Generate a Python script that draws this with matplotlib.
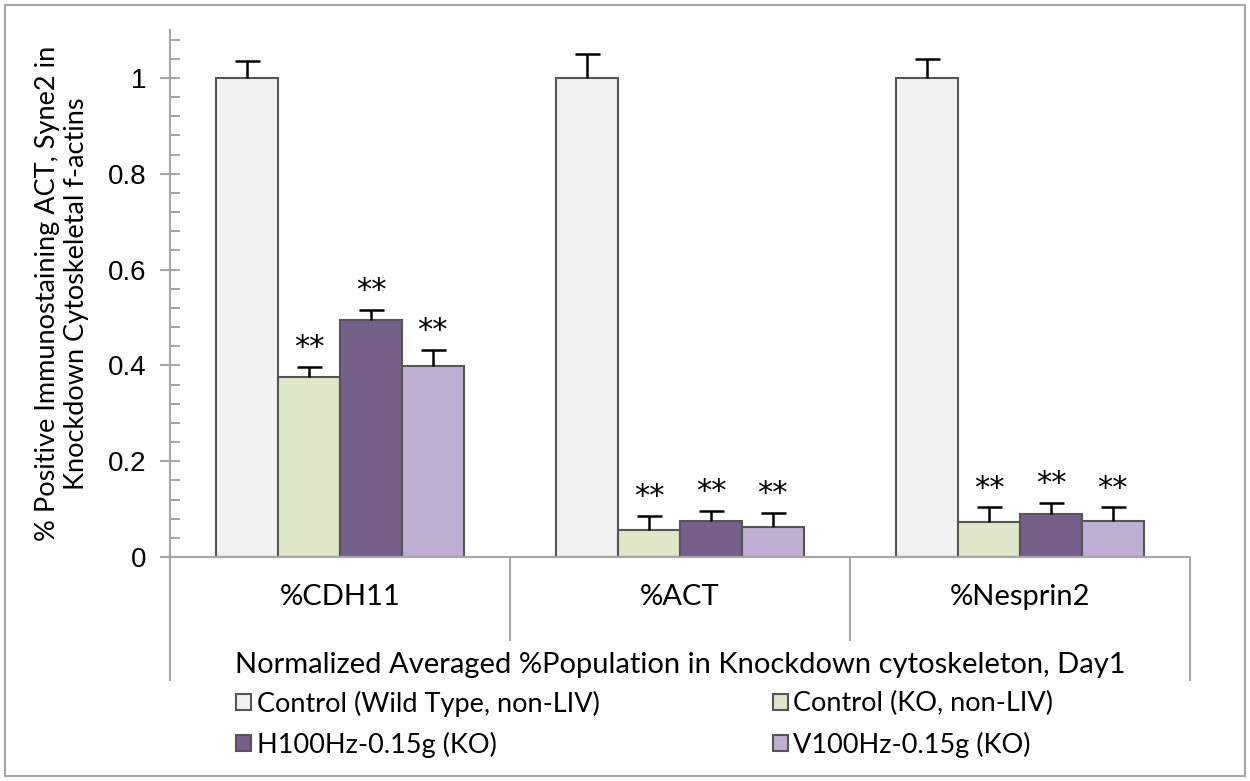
import matplotlib.pyplot as plt
import numpy as np
from matplotlib.patches import Rectangle
from matplotlib.ticker import MultipleLocator

categories = ["%CDH11", "%ACT", "%Nesprin2"]
series_names = ["Control (Wild Type, non-LIV)", "Control (KO, non-LIV)",
                "H100Hz-0.15g (KO)", "V100Hz-0.15g (KO)"]

wild_type = [1.0, 1.0, 1.0]
control_ko = [0.376, 0.056, 0.073]
h100 = [0.495, 0.075, 0.090]
v100 = [0.399, 0.063, 0.075]

wild_type_err = [0.035, 0.050, 0.040]
control_ko_err = [0.021, 0.030, 0.031]
h100_err = [0.021, 0.021, 0.023]
v100_err = [0.033, 0.029, 0.029]

# significance marks over the three knockout groups
marks = ["", "**", "**", "**"]

colors = ["#F2F2F2", "#DEE7C9", "#755F8B", "#BFB0D3"]
grey = "#A6A6A6"

plt.rcParams["font.family"] = ["Lato", "DejaVu Sans"]

fig = plt.figure(figsize=(12.5, 7.81), dpi=100)
ax = fig.add_axes([0.136, 0.2868, 0.816, 0.6748])

values = [wild_type, control_ko, h100, v100]
errors = [wild_type_err, control_ko_err, h100_err, v100_err]

x = np.arange(len(categories))
width = 0.182
handles = []
for i in range(4):
    pos = x + (i - 1.5) * width
    b = ax.bar(pos, values[i], width, color=colors[i], edgecolor="#555555",
               linewidth=1.5, label=series_names[i], zorder=2)
    handles.append(b)
    lower = np.zeros(len(categories))
    eb = ax.errorbar(pos, values[i], yerr=[lower, errors[i]], fmt="none",
                     ecolor="black", elinewidth=1.8, capsize=9, capthick=1.8, zorder=3)
    # only the upper cap is wanted
    eb.lines[1][0].set_visible(False)
    if marks[i]:
        for p, v, e in zip(pos, values[i], errors[i]):
            ax.text(p, v + e + 0.04, marks[i], ha="center", va="center",
                    fontsize=22, family="DejaVu Sans")

ax.set_xlim(-0.5, 2.5)
ax.set_ylim(0, 1.1)
ax.yaxis.set_minor_locator(MultipleLocator(0.04))
ax.set_yticks([0, 0.2, 0.4, 0.6, 0.8, 1.0])
ax.set_yticklabels(["0", "0.2", "0.4", "0.6", "0.8", "1"])
ax.tick_params(axis="y", which="major", direction="inout", length=14, width=1.5,
               color=grey, labelsize=20, pad=10)
ax.tick_params(axis="y", which="minor", direction="in", length=7, width=1.5, color=grey)
for lbl in ax.get_yticklabels():
    lbl.set_family(["Liberation Sans"])
ax.set_xticks([])

for side in ["top", "right"]:
    ax.spines[side].set_visible(False)
for side in ["left", "bottom"]:
    ax.spines[side].set_color(grey)
    ax.spines[side].set_linewidth(1.5)

# category box below the axis
for xs, yb in [(-0.5, -0.2334), (0.5, -0.1575), (1.5, -0.1575), (2.5, -0.2334)]:
    ax.plot([xs, xs], [0, yb], color=grey, lw=1.5, clip_on=False,
            transform=ax.get_xaxis_transform())
for c, name in zip(x, categories):
    ax.text(c, -0.076, name, ha="center", va="center", fontsize=21,
            transform=ax.get_xaxis_transform())
ax.text(1.0, -0.205, "Normalized Averaged %Population in Knockdown cytoskeleton, Day1",
        ha="center", va="center", fontsize=21, transform=ax.get_xaxis_transform())

ax.set_ylabel("% Positive Immunostaining ACT, Syne2 in\nKnockdown Cytoskeletal f-actins",
              fontsize=19.5, linespacing=1.2)
ax.yaxis.set_label_coords(-0.079, 0.5)

# legend filled row by row
order = [0, 2, 1, 3]
fig.legend([handles[k] for k in order], [series_names[k] for k in order],
           loc="upper left", bbox_to_anchor=(0.189, 0.116), ncol=2, frameon=False,
           fontsize=19.5, handlelength=0.55, handleheight=0.55, handletextpad=0.2,
           columnspacing=6.4, labelspacing=0.55, borderaxespad=0, borderpad=0)

fig.patches.append(Rectangle((0.004, 0.006), 0.992, 0.988, transform=fig.transFigure,
                             fill=False, edgecolor=grey, linewidth=1.5))

fig.savefig("out.png", dpi=100)
